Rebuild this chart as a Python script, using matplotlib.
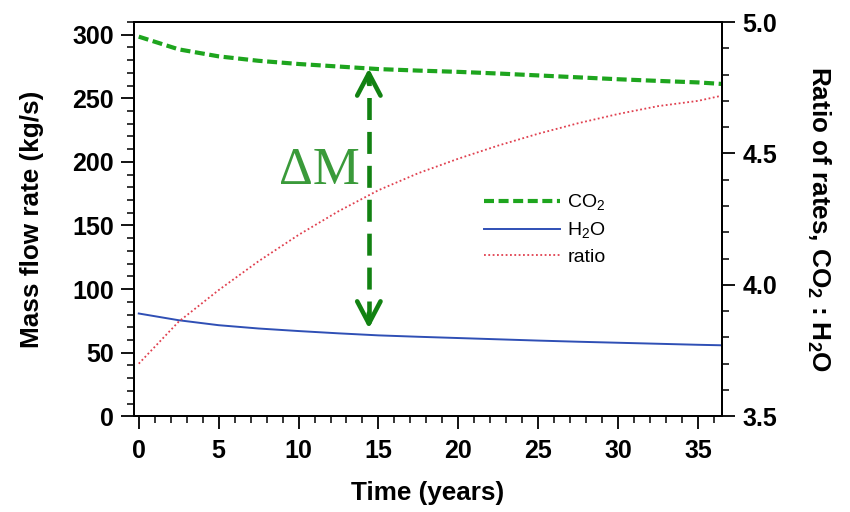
#!/usr/bin/env python3
'''mass flow rates of CO2 and H2O over time, with their ratio'''
import matplotlib
matplotlib.use('Agg')
import matplotlib.pyplot as plt
from matplotlib.ticker import MultipleLocator, FormatStrFormatter

plt.rcParams['font.family'] = ['Liberation Sans', 'DejaVu Sans']
plt.rcParams['mathtext.default'] = 'regular'

# time axis (years)
t = [0, 2.5, 5, 7.5, 10, 12.5, 15, 17.5, 20, 22.5, 25, 27.5, 30, 32.5, 35, 36.5]

# mass flow rates (kg/s)
co2 = [298.5, 288.5, 283, 279.5, 277, 275, 273, 271.8, 270.8, 269.5, 268,
       266.5, 265, 263.7, 262.5, 261.3]
h2o = [80.8, 75.5, 71.6, 69, 67, 65.2, 63.6, 62.5, 61.5, 60.5, 59.5,
       58.6, 57.8, 57, 56.2, 55.8]

# ratio of rates CO2 : H2O
ratio = [3.70, 3.86, 3.98, 4.09, 4.19, 4.28, 4.36, 4.425, 4.48, 4.53, 4.575,
         4.615, 4.65, 4.68, 4.70, 4.72]

# Delta-M marker: time and the two rates it spans
dm_t = 14.4
dm_top = 273.5
dm_bot = 69

fig = plt.figure(figsize=(8.5, 5.12), dpi=100)
ax = fig.add_axes([0.1576, 0.187, 0.6918, 0.770])
ax2 = ax.twinx()

l1, = ax.plot(t, co2, color='#1ea51e', lw=3, ls=(0, (2.4, 1.1)), label='CO$_2$')
l2, = ax.plot(t, h2o, color='#2f4fb5', lw=1.4, label='H$_2$O')
l3, = ax2.plot(t, ratio, color='#e0404f', lw=1.3, ls=(0, (1, 1.4)), label='ratio')

ax.set_xlim(-0.3, 36.5)
ax.set_ylim(0, 310)
ax2.set_ylim(3.5, 5.0)

ax.xaxis.set_major_locator(MultipleLocator(5))
ax.xaxis.set_minor_locator(MultipleLocator(1))
ax.yaxis.set_major_locator(MultipleLocator(50))
ax.yaxis.set_minor_locator(MultipleLocator(10))
ax2.yaxis.set_major_locator(MultipleLocator(0.5))
ax2.yaxis.set_minor_locator(MultipleLocator(0.1))
ax2.yaxis.set_major_formatter(FormatStrFormatter('%.1f'))

for a in (ax, ax2):
    for s in a.spines.values():
        s.set_linewidth(1.4)
    a.tick_params(which='major', direction='out', length=9.5, width=1.3,
                  labelsize=18)
    a.tick_params(which='minor', direction='out', length=5, width=1.1)
    for lab in a.get_xticklabels() + a.get_yticklabels():
        lab.set_fontweight('bold')
ax.tick_params(axis='x', which='major', pad=7)
ax.tick_params(axis='y', which='major', pad=5)
ax2.tick_params(axis='y', which='major', pad=5)

ax.set_xlabel('Time (years)', fontsize=18.8, fontweight='bold', labelpad=13)
ax.set_ylabel('Mass flow rate (kg/s)', fontsize=18.8, fontweight='bold', labelpad=20)
ax2.set_ylabel('Ratio of rates, CO$_2$ : H$_2$O', fontsize=18.8, fontweight='bold',
               rotation=270, labelpad=40)

# Delta-M: dashed shaft with open heads at both ends
arrow_c = '#128212'
ax.plot([dm_t, dm_t], [dm_bot + 4, dm_top - 4], color=arrow_c, lw=3.3,
        ls=(0, (4.8, 2.6)), solid_capstyle='butt')
for tip, tail in ((dm_top, dm_top - 12), (dm_bot, dm_bot + 12)):
    ax.annotate('', xy=(dm_t, tip), xytext=(dm_t, tail),
                arrowprops=dict(arrowstyle='->,head_length=0.8,head_width=0.42',
                                mutation_scale=20, lw=3.3, color=arrow_c,
                                shrinkA=0, shrinkB=0))
ax.text(dm_t - 0.6, 193, '\u0394M', color='#3a9a3a', fontsize=38,
        family=['Liberation Serif', 'DejaVu Serif'], ha='right', va='center')

ax.legend(handles=[l1, l2, l3], loc='upper left', bbox_to_anchor=(0.595, 0.568),
          frameon=False, fontsize=14, handlelength=3.9, handletextpad=0.4,
          labelspacing=0.42, borderpad=0, borderaxespad=0)

fig.savefig('out.png', dpi=100)
